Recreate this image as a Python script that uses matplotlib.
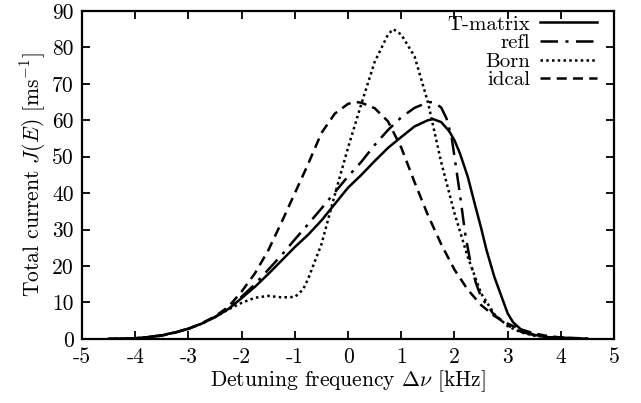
import numpy as np
import matplotlib
matplotlib.use('Agg')
import matplotlib.pyplot as plt

plt.rcParams['font.family'] = ['cmr10', 'DejaVu Serif']
plt.rcParams['mathtext.fontset'] = 'cm'
plt.rcParams['axes.unicode_minus'] = False
plt.rcParams['axes.formatter.use_mathtext'] = False

# T-matrix (solid)
x_t = [-4.5, -4.25, -4, -3.75, -3.5, -3.25, -3, -2.75, -2.5, -2.25, -2, -1.75, -1.5, -1.25,
       -1, -0.75, -0.5, -0.25, 0, 0.25, 0.5, 0.75, 1, 1.25, 1.5, 1.6, 1.75, 1.9, 2, 2.1,
       2.25, 2.4, 2.5, 2.6, 2.75, 2.9, 3, 3.1, 3.25, 3.5, 3.75, 4, 4.5]
y_t = [0.0, 0.05, 0.2, 0.5, 1.0, 1.8, 2.8, 4.2, 6.0, 8.2, 11.2, 14.3, 17.8, 21.5,
       25.2, 28.6, 32.5, 37.0, 41.5, 45.0, 48.8, 52.4, 55.4, 58.3, 60.0, 60.3, 59.5, 57.0, 54.5, 51.0,
       44.5, 36.0, 30.5, 24.5, 17.0, 11.0, 7.0, 4.6, 2.6, 1.1, 0.5, 0.3, 0.05]

# refl (dash-dot)
x_r = [-4.5, -4.25, -4, -3.75, -3.5, -3.25, -3, -2.75, -2.5, -2.25, -2, -1.75, -1.5, -1.25,
       -1, -0.75, -0.5, -0.25, 0, 0.25, 0.5, 0.75, 1, 1.25, 1.5, 1.6, 1.75, 1.85, 1.95, 2.0,
       2.1, 2.2, 2.3, 2.4, 2.5, 2.75, 3, 3.25, 3.5, 3.75, 4, 4.5]
y_r = [0.0, 0.05, 0.2, 0.5, 1.0, 1.8, 2.8, 4.2, 6.0, 8.4, 11.6, 15.0, 19.0, 23.0,
       27.3, 31.5, 35.8, 40.2, 44.6, 48.6, 53.2, 57.3, 60.8, 63.4, 64.9, 65.0, 63.5, 60.5, 55.0, 50.0,
       40.0, 29.0, 21.0, 15.5, 11.5, 6.5, 3.7, 2.0, 1.0, 0.5, 0.3, 0.05]

# Born (dotted)
x_b = [-4.5, -4.25, -4, -3.75, -3.5, -3.25, -3, -2.75, -2.5, -2.25, -2, -1.75, -1.5, -1.25,
       -1, -0.85, -0.75, -0.5, -0.25, 0, 0.25, 0.5, 0.75, 0.85, 1, 1.25, 1.5, 1.75, 2, 2.25,
       2.5, 2.75, 3, 3.25, 3.5, 3.75, 4, 4.5]
y_b = [0.0, 0.05, 0.2, 0.5, 1.0, 1.8, 2.8, 4.2, 6.0, 8.1, 9.9, 11.3, 11.8, 11.4,
       11.5, 13.5, 16.5, 26.0, 39.5, 52.5, 64.5, 76.0, 83.5, 85.0, 83.5, 77.5, 65.0, 48.5, 34.5, 22.5,
       12.5, 6.8, 3.5, 1.8, 0.9, 0.5, 0.3, 0.05]

# idcal (dashed)
x_i = [-4.5, -4, -3.75, -3.5, -3.25, -3, -2.75, -2.5, -2.25, -2, -1.75, -1.5, -1.25, -1,
       -0.75, -0.5, -0.25, 0, 0.15, 0.25, 0.5, 0.75, 1, 1.25, 1.5, 1.75, 2, 2.25, 2.5,
       2.75, 3, 3.25, 3.5, 3.75, 4, 4.5]
y_i = [0.0, 0.1, 0.4, 0.9, 1.7, 2.8, 4.3, 6.2, 8.8, 13.0, 18.0, 24.3, 32.0, 40.0,
       48.0, 56.5, 61.8, 64.5, 65.0, 64.8, 63.3, 59.7, 52.5, 43.0, 34.0, 26.0, 19.0, 13.5, 9.3,
       6.3, 4.2, 2.6, 1.5, 0.8, 0.4, 0.1]

fig = plt.figure(figsize=(6.41, 4.03), dpi=100)
ax = fig.add_axes([0.128, 0.159, 0.83, 0.814])

lw = 1.8
ax.plot(x_t, y_t, color='black', lw=lw, ls='-', label='T-matrix')
ax.plot(x_r, y_r, color='black', lw=lw, ls=(0, (7, 3, 1.2, 3)), label='refl')
ax.plot(x_b, y_b, color='black', lw=lw, ls=(0, (1, 1.3)), label='Born')
ax.plot(x_i, y_i, color='black', lw=lw, ls=(0, (4, 2.5)), label='idcal')

ax.set_xlim(-5, 5)
ax.set_ylim(0, 90)
ax.set_xticks(range(-5, 6))
ax.set_yticks(range(0, 91, 10))
ax.tick_params(direction='in', top=True, right=True, length=6, width=1.3, labelsize=15.5, pad=6)
for s in ax.spines.values():
    s.set_linewidth(1.6)

ax.set_xlabel(r'Detuning frequency $\Delta\nu$ [kHz]', fontsize=15.5, labelpad=1)
ax.set_ylabel(r'Total current $J(E)$ [ms$^{-1}$]', fontsize=15.5, labelpad=3)

ax.legend(loc='upper right', frameon=False, markerfirst=False, fontsize=15,
          handlelength=2.7, labelspacing=0.0, handletextpad=0.5,
          borderaxespad=0.1, borderpad=0.1, bbox_to_anchor=(0.975, 1.0))

fig.savefig('out.png', dpi=100)
